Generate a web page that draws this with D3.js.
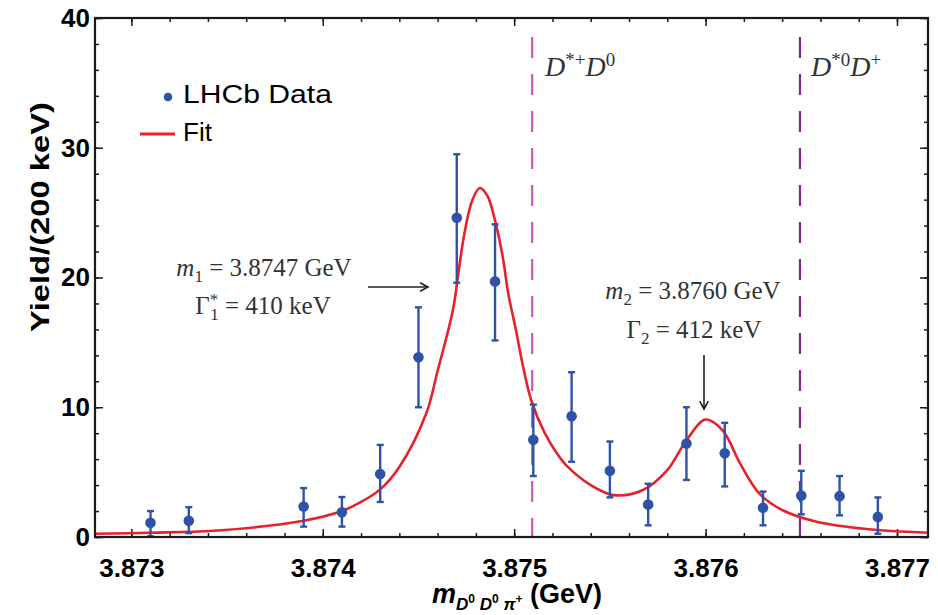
<!DOCTYPE html>
<html>
<head>
<meta charset="utf-8">
<script src="https://cdn.jsdelivr.net/npm/d3@7"></script>
<style>
  body { margin: 0; background: #fff; }
  svg { display: block; }
</style>
</head>
<body>
<script>
const binCenters = [3.8731, 3.8733, 3.8739, 3.8741, 3.8743, 3.8745, 3.8747, 3.8749, 3.8751,
                    3.8753, 3.8755, 3.8757, 3.8759, 3.8761, 3.8763, 3.8765, 3.8767, 3.8769]
const yields   = [1.1, 1.25, 2.35, 1.9, 4.85, 13.85, 24.6, 19.7, 7.5,
                  9.3, 5.1, 2.5, 7.2, 6.45, 2.25, 3.2, 3.15, 1.55]
const errLow   = [0.05, 0.3, 0.8, 0.8, 2.7, 10.0, 19.6, 15.15, 4.7,
                  5.8, 3.05, 0.9, 4.4, 3.9, 0.9, 1.75, 1.67, 0.25]
const errHigh  = [2.0, 2.3, 3.77, 3.08, 7.1, 17.7, 29.5, 24.1, 10.2,
                  12.7, 7.36, 4.1, 10.0, 8.8, 3.5, 5.1, 4.7, 3.05]

// Fit curve, sampled by eye along the red line
const fitMass  = [3.87281, 3.8731, 3.87343, 3.8739, 3.8741, 3.8742, 3.8743, 3.8744, 3.87454, 3.8746,
                  3.87468, 3.87471, 3.87474, 3.87478, 3.87482, 3.87486, 3.8749, 3.87494, 3.87497,
                  3.87501, 3.87504, 3.87509, 3.87516, 3.87523, 3.87528, 3.8754, 3.87552, 3.87567,
                  3.8758, 3.8759, 3.876, 3.87609, 3.87618, 3.87628, 3.8764, 3.87658, 3.87684, 3.87716]
const fitYield = [0.25, 0.33, 0.48, 1.25, 2.0, 2.7, 3.67, 5.4, 9.5, 12.8,
                  17.5, 20.5, 23.4, 25.9, 26.9, 26.3, 24.4, 21.6, 18.7,
                  15.9, 13.6, 10.5, 8.0, 6.3, 5.4, 4.0, 3.23, 3.6,
                  5.15, 7.46, 9.05, 8.2, 5.67, 3.36, 2.08, 1.18, 0.62, 0.33]

const thresholds = [3.875094, 3.876493]
const xTicks = [3.873, 3.874, 3.875, 3.876, 3.877]
const yTicks = [0, 10, 20, 30, 40]

const WIDTH = 938
const HEIGHT = 615
const margin = {left: 95, top: 18, right: 10, bottom: 78}

const BLUE = '#2f51a7'
const RED = '#e8202c'
const INK = '#1a1a1a'

const svg = d3.select('body').append('svg')
  .attr('width', WIDTH)
  .attr('height', HEIGHT)

const x = d3.scaleLinear()
  .domain([3.87281, 3.877162])
  .range([margin.left, WIDTH - margin.right])

const y = d3.scaleLinear()
  .domain([0, 40])
  .range([HEIGHT - margin.bottom, margin.top])

const x0 = margin.left, x1 = WIDTH - margin.right
const y0 = HEIGHT - margin.bottom, y1 = margin.top

// minor tick positions
const xMinor = d3.range(3.8730, 3.87716, 0.0002)
const yMinor = d3.range(0, 40.01, 2)

// ticks on all four sides, pointing inward
const addTicks = (axisFn, scale, values, size, transform) => {
  svg.append('g')
    .attr('transform', transform)
    .call(axisFn(scale).tickValues(values).tickSize(size).tickSizeOuter(0).tickFormat(''))
    .call(g => g.select('.domain').remove())
    .call(g => g.selectAll('line').attr('stroke', INK).attr('stroke-width', 1.5))
}
addTicks(d3.axisBottom, x, xMinor, -4, `translate(0,${y0})`)
addTicks(d3.axisBottom, x, xTicks, -8, `translate(0,${y0})`)
addTicks(d3.axisTop, x, xMinor, -4, `translate(0,${y1})`)
addTicks(d3.axisTop, x, xTicks, -8, `translate(0,${y1})`)
addTicks(d3.axisLeft, y, yMinor, -4, `translate(${x0},0)`)
addTicks(d3.axisLeft, y, yTicks, -8, `translate(${x0},0)`)
addTicks(d3.axisRight, y, yMinor, -4, `translate(${x1},0)`)
addTicks(d3.axisRight, y, yTicks, -8, `translate(${x1},0)`)

// tick labels
svg.append('g')
  .attr('transform', `translate(0,${y0})`)
  .call(d3.axisBottom(x).tickValues(xTicks).tickSize(0).tickPadding(22).tickFormat(d3.format('.3f')))
  .call(g => g.select('.domain').remove())
  .call(g => g.selectAll('text')
    .attr('fill', '#000')
    .style('font', 'bold 26px "Liberation Sans", Arial, sans-serif'))

svg.append('g')
  .attr('transform', `translate(${x0},0)`)
  .call(d3.axisLeft(y).tickValues(yTicks).tickSize(0).tickPadding(5).tickFormat(d3.format('d')))
  .call(g => g.select('.domain').remove())
  .call(g => g.selectAll('text')
    .attr('fill', '#000')
    .style('font', 'bold 26px "Liberation Sans", Arial, sans-serif'))

// threshold lines
const thrColors = ['#d057b2', '#84288e']
thresholds.forEach((t, i) => {
  svg.append('line')
    .attr('x1', x(t)).attr('x2', x(t))
    .attr('y1', 37).attr('y2', y0)
    .attr('stroke', thrColors[i])
    .attr('stroke-width', 2.2)
    .attr('stroke-dasharray', '21,16')
})

// fit curve
const line = d3.line()
  .x((d, i) => x(fitMass[i]))
  .y(d => y(d))
  .curve(d3.curveCatmullRom.alpha(0.5))

svg.append('path')
  .datum(fitYield)
  .attr('d', line)
  .attr('fill', 'none')
  .attr('stroke', RED)
  .attr('stroke-width', 2.6)

// data with error bars
const pts = svg.append('g')
binCenters.forEach((m, i) => {
  const cx = x(m)
  pts.append('line')
    .attr('x1', cx).attr('x2', cx)
    .attr('y1', y(errLow[i])).attr('y2', y(errHigh[i]))
    .attr('stroke', BLUE).attr('stroke-width', 2.4)
  ;[errLow[i], errHigh[i]].forEach(v => {
    pts.append('line')
      .attr('x1', cx - 3.5).attr('x2', cx + 3.5)
      .attr('y1', y(v)).attr('y2', y(v))
      .attr('stroke', BLUE).attr('stroke-width', 2.4)
  })
  pts.append('circle')
    .attr('cx', cx).attr('cy', y(yields[i]))
    .attr('r', 5.3)
    .attr('fill', BLUE)
})

// frame
svg.append('rect')
  .attr('x', x0).attr('y', y1)
  .attr('width', x1 - x0).attr('height', y0 - y1)
  .attr('fill', 'none')
  .attr('stroke', INK)
  .attr('stroke-width', 2.2)

// legend
svg.append('circle').attr('cx', 168).attr('cy', 97).attr('r', 4.3).attr('fill', BLUE)
svg.append('text').attr('x', 183).attr('y', 103)
  .attr('textLength', 149).attr('lengthAdjust', 'spacingAndGlyphs')
  .style('font', '26px "Liberation Sans", Arial, sans-serif')
  .text('LHCb Data')
svg.append('line').attr('x1', 140).attr('x2', 175).attr('y1', 134).attr('y2', 134)
  .attr('stroke', RED).attr('stroke-width', 3)
svg.append('text').attr('x', 183).attr('y', 141)
  .style('font', '26px "Liberation Sans", Arial, sans-serif')
  .text('Fit')

// axis titles
svg.append('text')
  .attr('transform', 'translate(49,217) rotate(-90)')
  .attr('text-anchor', 'middle')
  .attr('textLength', 230).attr('lengthAdjust', 'spacingAndGlyphs')
  .style('font', 'bold 26px "Liberation Sans", Arial, sans-serif')
  .text('Yield/(200 keV)')

const xt = svg.append('text')
  .attr('x', 517).attr('y', 603)
  .attr('text-anchor', 'middle')
  .style('font', 'bold 27px "Liberation Sans", Arial, sans-serif')
xt.append('tspan').style('font-style', 'italic').text('m')
xt.append('tspan').attr('dy', 7).style('font-size', '17px').style('font-style', 'italic').text('D')
xt.append('tspan').attr('dy', -7).style('font-size', '12px').text('0')
xt.append('tspan').attr('dy', 7).style('font-size', '17px').style('font-style', 'italic').text(' D')
xt.append('tspan').attr('dy', -7).style('font-size', '12px').text('0')
xt.append('tspan').attr('dy', 7).style('font-size', '17px').style('font-style', 'italic').text(' π')
xt.append('tspan').attr('dy', -7).style('font-size', '12px').text('+')
xt.append('tspan').attr('dy', 0).text(' (GeV)')

// threshold labels
const serif = '"Liberation Serif", "Times New Roman", serif'
const thrLabel = (xPos, sup1, sup2) => {
  const t = svg.append('text').attr('x', xPos).attr('y', 76)
    .attr('fill', '#333')
    .style('font', `italic 28px ${serif}`)
  t.append('tspan').text('D')
  t.append('tspan').attr('dy', -10).style('font-size', '19px').style('font-style', 'normal').text(sup1)
  t.append('tspan').attr('dy', 10).text('D')
  t.append('tspan').attr('dy', -10).style('font-size', '19px').style('font-style', 'normal').text(sup2)
}
thrLabel(545, '*+', '0')
thrLabel(811, '*0', '+')

// peak annotations
const annotate = (cx, baseY, sym, sub, sup, rest) => {
  const t = svg.append('text').attr('x', cx).attr('y', baseY)
    .attr('text-anchor', 'middle')
    .attr('fill', '#333')
    .style('font', `25px ${serif}`)
  t.append('tspan').style('font-style', sym === 'm' ? 'italic' : 'normal').text(sym)
  if (sup) {
    t.append('tspan').attr('dy', -9).style('font-size', '17px').text(sup)
    t.append('tspan').attr('dx', -8).attr('dy', 15).style('font-size', '17px').text(sub)
    t.append('tspan').attr('dy', -6).text(rest)
  } else {
    t.append('tspan').attr('dy', 6).style('font-size', '17px').text(sub)
    t.append('tspan').attr('dy', -6).text(rest)
  }
}
annotate(264, 276, 'm', '1', null, ' = 3.8747 GeV')
annotate(263, 314, 'Γ', '1', '*', ' = 410 keV')
annotate(693, 299, 'm', '2', null, ' = 3.8760 GeV')
annotate(694, 338, 'Γ', '2', null, ' = 412 keV')

// arrows
const arrow = (xa, ya, xb, yb) => {
  svg.append('line')
    .attr('x1', xa).attr('y1', ya).attr('x2', xb).attr('y2', yb)
    .attr('stroke', '#222').attr('stroke-width', 1.6)
  const ang = Math.atan2(yb - ya, xb - xa)
  const s = 9
  const p = [
    [xb - s * Math.cos(ang - 0.5), yb - s * Math.sin(ang - 0.5)],
    [xb, yb],
    [xb - s * Math.cos(ang + 0.5), yb - s * Math.sin(ang + 0.5)]
  ]
  svg.append('path')
    .attr('d', d3.line()(p))
    .attr('fill', 'none').attr('stroke', '#222').attr('stroke-width', 1.6)
}
arrow(368, 287, 428, 287)
arrow(704, 355, 704, 409)
</script>
</body>
</html>
